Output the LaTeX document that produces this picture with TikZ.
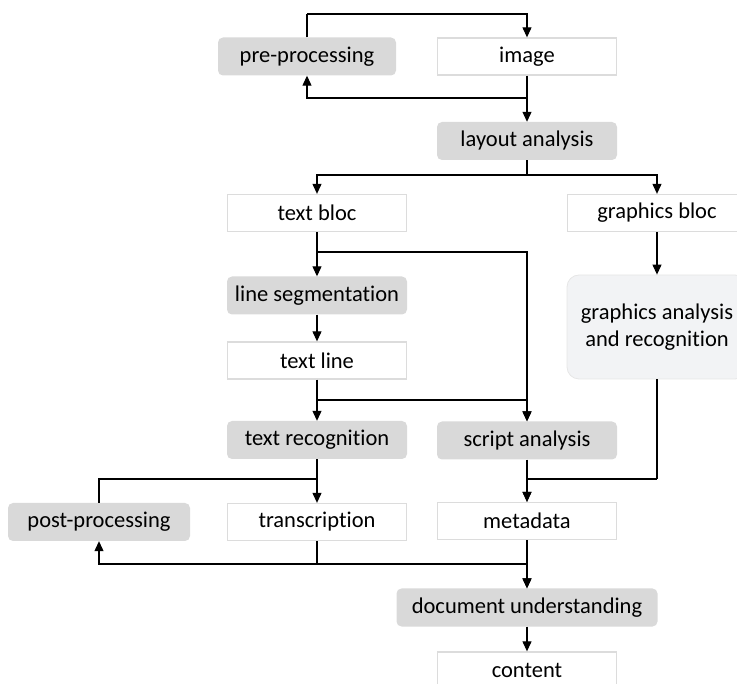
\documentclass[tikz,border=0pt]{standalone}
\usepackage{fontspec}
\setmainfont{Carlito}[RawFeature=-liga]
\usetikzlibrary{arrows.meta}
\usetikzlibrary{positioning}

\definecolor{procgray}{HTML}{D9D9D9}
\definecolor{dataline}{HTML}{DCDCDC}
\definecolor{lightfill}{HTML}{F2F3F5}

\tikzset{
  every node/.style={font=\fontsize{22.5}{27}\selectfont, align=center},
  proc/.style={fill=procgray, rounded corners=5pt, minimum width=180pt, minimum height=38pt, inner sep=0pt},
  data/.style={draw=dataline, line width=1.3pt, fill=white, minimum width=179pt, minimum height=37pt, inner sep=0pt},
  soft/.style={draw=dataline!70, line width=0.8pt, fill=lightfill, rounded corners=12pt, minimum width=180pt, minimum height=104pt, inner sep=0pt},
  arr/.style={-{Triangle[length=10pt,width=9pt]}},
  line/.style={line width=1.1pt}
}

\begin{document}
\begin{tikzpicture}[x=1pt, y=-1pt]
  \useasboundingbox (0,0) rectangle (737,684);

  % boxes
  \node [proc, minimum width=178pt] (pre) at (307,56.5) {pre-processing};
  \node [data] (img) at (527,56.5) {image};
  \node [proc] (layout) at (527,141) {layout analysis};

  \node [data] (tbloc) at (317,213) {text bloc};
  \node [data] (gbloc) at (657,213) {graphics bloc};

  \node [proc] (lseg) at (317,295.5) {line segmentation};
  \node [data] (tline) at (317,360.5) {text line};
  \node [soft] (ganal) at (657,327) {graphics analysis\\and recognition};

  \node [proc] (trec) at (317,440) {text recognition};
  \node [proc] (script) at (527,440.5) {script analysis};

  \node [proc, minimum width=182pt] (post) at (99,522) {post-processing};
  \node [data] (trans) at (317,522) {transcription};
  \node [data] (meta) at (527,521) {metadata};

  \node [proc, minimum width=261pt] (docu) at (527,607.5) {document understanding};
  \node [data] (content) at (527,670.5) {content};

  % junctions
  \coordinate (topj) at (307,14);
  \coordinate (imgj) at (527,98);
  \coordinate (layj) at (527,175);
  \coordinate (tbj) at (317,252);
  \coordinate (tlj) at (317,400);
  \coordinate (trj) at (317,479);
  \coordinate (gaj) at (657,479);
  \coordinate (tsj) at (317,564);

  \begin{scope}[line]
    \draw (pre) -- (topj);
    \draw [arr] (topj) -| (img);
    \draw (img) -- (imgj);
    \draw [arr] (imgj) -| (pre);
    \draw [arr] (imgj) -- (layout);

    \draw (layout) -- (layj);
    \draw [arr] (layj) -| (tbloc);
    \draw [arr] (layj) -| (gbloc);

    \draw (tbloc) -- (tbj);
    \draw [arr] (tbj) -- (lseg);
    \draw [arr] (tbj) -| (script);
    \draw [arr] (lseg) -- (tline);
    \draw (tline) -- (tlj);
    \draw [arr] (tlj) -- (trec);
    \draw [arr] (tlj) -| (script);

    \draw [arr] (gbloc) -- (ganal);
    \draw (ganal) -- (gaj);
    \draw [arr] (gaj) -| (meta);
    \draw [arr] (script) -- (meta);

    \draw (trec) -- (trj);
    \draw (post) |- (trj);
    \draw [arr] (trj) -- (trans);
    \draw (trans) -- (tsj);
    \draw [arr] (tsj) -| (post);
    \draw [arr] (tsj) -| (docu);
    \draw [arr] (meta) -- (docu);
    \draw [arr] (docu) -- (content);
  \end{scope}

\end{tikzpicture}
\end{document}
